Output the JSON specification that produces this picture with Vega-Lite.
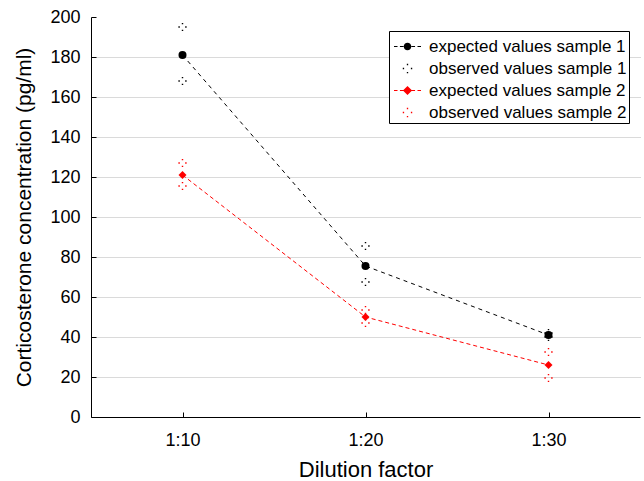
{
  "$schema": "https://vega.github.io/schema/vega-lite/v6.json",
  "width": 549,
  "height": 400,
  "padding": {"left": 13, "top": 8, "right": 4, "bottom": 5},
  "background": "white",
  "config": {
    "view": {"stroke": null},
    "font": "Liberation Sans",
    "axis": {
      "domainColor": "black",
      "domainWidth": 1,
      "tickColor": "black",
      "labelColor": "black",
      "titleColor": "black",
      "labelFont": "Liberation Sans",
      "titleFont": "Liberation Sans",
      "titleFontWeight": "normal",
      "labelFontSize": 18,
      "titleFontSize": 21
    },
    "legend": {
      "labelFont": "Liberation Sans",
      "labelFontSize": 17,
      "labelColor": "black",
      "labelLimit": 0
    }
  },
  "data": {
    "values": [
      {"dilution": "1:10", "series": "expected values sample 1", "value": 181},
      {"dilution": "1:20", "series": "expected values sample 1", "value": 75.5},
      {"dilution": "1:30", "series": "expected values sample 1", "value": 41},
      {"dilution": "1:10", "series": "expected values sample 2", "value": 121},
      {"dilution": "1:20", "series": "expected values sample 2", "value": 50},
      {"dilution": "1:30", "series": "expected values sample 2", "value": 26},
      {"dilution": "1:10", "series": "observed values sample 1", "value": 195},
      {"dilution": "1:10", "series": "observed values sample 1", "value": 168},
      {"dilution": "1:20", "series": "observed values sample 1", "value": 85.5},
      {"dilution": "1:20", "series": "observed values sample 1", "value": 67.5},
      {"dilution": "1:30", "series": "observed values sample 1", "value": 42},
      {"dilution": "1:30", "series": "observed values sample 1", "value": 40},
      {"dilution": "1:10", "series": "observed values sample 2", "value": 127},
      {"dilution": "1:10", "series": "observed values sample 2", "value": 115.5},
      {"dilution": "1:20", "series": "observed values sample 2", "value": 53.5},
      {"dilution": "1:20", "series": "observed values sample 2", "value": 47},
      {"dilution": "1:30", "series": "observed values sample 2", "value": 32.5},
      {"dilution": "1:30", "series": "observed values sample 2", "value": 19.5}
    ]
  },
  "encoding": {
    "x": {
      "field": "dilution",
      "type": "ordinal",
      "scale": {"type": "point", "padding": 0.5},
      "axis": {
        "title": "Dilution factor",
        "titleFontSize": 22,
        "labelAngle": 0,
        "tickSize": -5,
        "labelPadding": 19,
        "titlePadding": 10,
        "grid": false
      }
    },
    "y": {
      "field": "value",
      "type": "quantitative",
      "scale": {"domain": [0, 200], "nice": false},
      "axis": {
        "title": "Corticosterone concentration (pg/ml)",
        "values": [0, 20, 40, 60, 80, 100, 120, 140, 160, 180, 200],
        "tickSize": -5,
        "labelPadding": 16,
        "titlePadding": 15,
        "grid": true,
        "gridColor": "#b4b4b4",
        "gridDash": [1, 1],
        "gridOpacity": {"condition": {"test": "datum.value === 0 || datum.value === 200", "value": 0}, "value": 1}
      }
    }
  },
  "resolve": {
    "scale": {"shape": "independent", "size": "independent"},
    "legend": {"shape": "independent", "color": "independent"}
  },
  "layer": [
    {
      "transform": [{"filter": "datum.series === 'expected values sample 1'"}],
      "mark": {"type": "line", "color": "black", "strokeDash": [4, 4], "strokeWidth": 1}
    },
    {
      "transform": [{"filter": "datum.series === 'expected values sample 2'"}],
      "mark": {"type": "line", "color": "#ff0000", "strokeDash": [4, 3], "strokeWidth": 1}
    },
    {
      "mark": {"type": "point", "filled": true, "opacity": 1},
      "encoding": {
        "color": {
          "field": "series",
          "type": "nominal",
          "scale": {
            "domain": ["expected values sample 1", "observed values sample 1", "expected values sample 2", "observed values sample 2"],
            "range": ["black", "black", "#ff0000", "#ff0000"]
          },
          "legend": null
        },
        "shape": {
          "field": "series",
          "type": "nominal",
          "scale": {
            "domain": ["expected values sample 1", "observed values sample 1", "expected values sample 2", "observed values sample 2"],
            "range": ["circle", "M-0.18,-1.03h0.36v0.36h-0.36z M0.67,-0.18h0.36v0.36h-0.36z M-0.18,0.67h0.36v0.36h-0.36z M-1.03,-0.18h0.36v0.36h-0.36z", "diamond", "M-0.18,-1.03h0.36v0.36h-0.36z M0.67,-0.18h0.36v0.36h-0.36z M-0.18,0.67h0.36v0.36h-0.36z M-1.03,-0.18h0.36v0.36h-0.36z"]
          },
          "legend": null
        },
        "size": {
          "field": "series",
          "type": "nominal",
          "scale": {
            "domain": ["expected values sample 1", "observed values sample 1", "expected values sample 2", "observed values sample 2"],
            "range": [64, 64, 90, 64]
          },
          "legend": null
        }
      }
    },
    {
      "transform": [{"filter": "false"}],
      "mark": {"type": "point", "filled": true},
      "encoding": {
        "color": {
          "field": "series",
          "type": "nominal",
          "scale": {
            "domain": ["expected values sample 1", "observed values sample 1", "expected values sample 2", "observed values sample 2"],
            "range": ["black", "black", "#ff0000", "#ff0000"]
          },
          "legend": {
            "title": null,
            "orient": "none",
            "legendX": 298,
            "legendY": 14,
            "strokeColor": "black",
            "fillColor": "white",
            "padding": 2,
            "symbolSize": 729,
            "symbolOffset": 3,
            "labelOffset": 8,
            "rowPadding": -4,
            "symbolStrokeWidth": 0,
            "symbolOpacity": 1
          }
        },
        "shape": {
          "field": "series",
          "type": "nominal",
          "scale": {
            "domain": ["expected values sample 1", "observed values sample 1", "expected values sample 2", "observed values sample 2"],
            "range": [
              "M-1,-0.04h0.26v0.08h-0.26z M-0.56,-0.04h0.3v0.08h-0.3z M0.26,-0.04h0.3v0.08h-0.3z M0.74,-0.04h0.26v0.08h-0.26z M-0.28,0 a0.28,0.28 0 1,0 0.56,0 a0.28,0.28 0 1,0 -0.56,0 z",
              "M-0.05,-0.35h0.1v0.1h-0.1z M0.25,-0.05h0.1v0.1h-0.1z M-0.05,0.25h0.1v0.1h-0.1z M-0.35,-0.05h0.1v0.1h-0.1z",
              "M-1,-0.04h0.26v0.08h-0.26z M-0.56,-0.04h0.3v0.08h-0.3z M0.26,-0.04h0.3v0.08h-0.3z M0.74,-0.04h0.26v0.08h-0.26z M0,-0.34 L0.34,0 L0,0.34 L-0.34,0 Z",
              "M-0.05,-0.35h0.1v0.1h-0.1z M0.25,-0.05h0.1v0.1h-0.1z M-0.05,0.25h0.1v0.1h-0.1z M-0.35,-0.05h0.1v0.1h-0.1z"
            ]
          },
          "legend": {
            "title": null,
            "orient": "none",
            "legendX": 298,
            "legendY": 14,
            "strokeColor": "black",
            "fillColor": "white",
            "padding": 2,
            "symbolSize": 729,
            "symbolOffset": 3,
            "labelOffset": 8,
            "rowPadding": -4,
            "symbolStrokeWidth": 0,
            "symbolOpacity": 1
          }
        }
      }
    }
  ]
}
